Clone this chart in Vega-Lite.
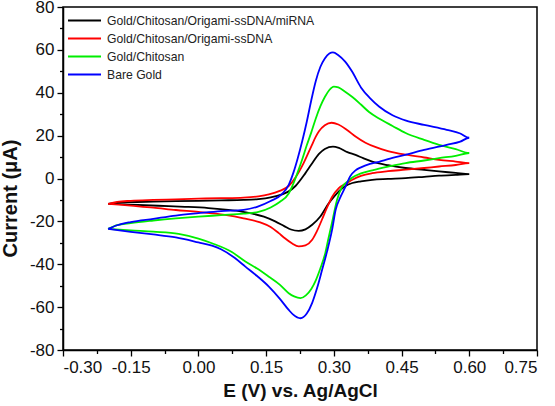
{
  "$schema": "https://vega.github.io/schema/vega-lite/v6.json",
  "width": 474,
  "height": 343,
  "autosize": {"type": "none"},
  "padding": {"left": 63, "top": 7, "right": 18, "bottom": 56},
  "background": "white",
  "config": {
    "view": {"stroke": "black", "strokeWidth": 1.5},
    "font": "Liberation Sans",
    "axis": {
      "grid": false,
      "domainColor": "black",
      "domainWidth": 1.5,
      "tickColor": "black",
      "tickWidth": 1.3,
      "labelColor": "#111",
      "labelFont": "Liberation Sans",
      "labelFontSize": 17,
      "titleFont": "Liberation Sans",
      "titleFontWeight": "bold",
      "titleColor": "#111",
      "titleFontSize": 19
    },
    "legend": {
      "orient": "none",
      "legendX": 15,
      "legendY": 7,
      "labelFont": "Liberation Sans",
      "labelFontSize": 12.2,
      "labelColor": "#222",
      "labelLimit": 0,
      "symbolType": "M-3,0H3",
      "symbolSize": 121,
      "symbolStrokeWidth": 2,
      "symbolFillColor": "transparent",
      "labelOffset": 16,
      "rowPadding": 5
    }
  },
  "data": {"values": [
    {"s":"Gold/Chitosan/Origami-ssDNA/miRNA","e":-0.2,"i":-11.8},{"s":"Gold/Chitosan/Origami-ssDNA/miRNA","e":-0.18,"i":-11.3},{"s":"Gold/Chitosan/Origami-ssDNA/miRNA","e":-0.15,"i":-11.0},{"s":"Gold/Chitosan/Origami-ssDNA/miRNA","e":-0.1,"i":-10.8},{"s":"Gold/Chitosan/Origami-ssDNA/miRNA","e":-0.05,"i":-10.6},{"s":"Gold/Chitosan/Origami-ssDNA/miRNA","e":0.0,"i":-10.4},{"s":"Gold/Chitosan/Origami-ssDNA/miRNA","e":0.05,"i":-10.2},{"s":"Gold/Chitosan/Origami-ssDNA/miRNA","e":0.1,"i":-10.0},{"s":"Gold/Chitosan/Origami-ssDNA/miRNA","e":0.133,"i":-9.6},{"s":"Gold/Chitosan/Origami-ssDNA/miRNA","e":0.16,"i":-8.8},{"s":"Gold/Chitosan/Origami-ssDNA/miRNA","e":0.185,"i":-7.4},{"s":"Gold/Chitosan/Origami-ssDNA/miRNA","e":0.2,"i":-6.0},{"s":"Gold/Chitosan/Origami-ssDNA/miRNA","e":0.215,"i":-3.5},{"s":"Gold/Chitosan/Origami-ssDNA/miRNA","e":0.237,"i":2.5},{"s":"Gold/Chitosan/Origami-ssDNA/miRNA","e":0.25,"i":6.5},{"s":"Gold/Chitosan/Origami-ssDNA/miRNA","e":0.267,"i":11.5},{"s":"Gold/Chitosan/Origami-ssDNA/miRNA","e":0.28,"i":13.8},{"s":"Gold/Chitosan/Origami-ssDNA/miRNA","e":0.298,"i":14.9},{"s":"Gold/Chitosan/Origami-ssDNA/miRNA","e":0.311,"i":14.3},{"s":"Gold/Chitosan/Origami-ssDNA/miRNA","e":0.33,"i":12.3},{"s":"Gold/Chitosan/Origami-ssDNA/miRNA","e":0.348,"i":11.0},{"s":"Gold/Chitosan/Origami-ssDNA/miRNA","e":0.365,"i":9.5},{"s":"Gold/Chitosan/Origami-ssDNA/miRNA","e":0.385,"i":7.9},{"s":"Gold/Chitosan/Origami-ssDNA/miRNA","e":0.42,"i":6.2},{"s":"Gold/Chitosan/Origami-ssDNA/miRNA","e":0.459,"i":4.9},{"s":"Gold/Chitosan/Origami-ssDNA/miRNA","e":0.5,"i":4.0},{"s":"Gold/Chitosan/Origami-ssDNA/miRNA","e":0.533,"i":3.3},{"s":"Gold/Chitosan/Origami-ssDNA/miRNA","e":0.57,"i":2.6},{"s":"Gold/Chitosan/Origami-ssDNA/miRNA","e":0.6,"i":2.0},{"s":"Gold/Chitosan/Origami-ssDNA/miRNA","e":0.57,"i":1.7},{"s":"Gold/Chitosan/Origami-ssDNA/miRNA","e":0.533,"i":1.3},{"s":"Gold/Chitosan/Origami-ssDNA/miRNA","e":0.5,"i":0.8},{"s":"Gold/Chitosan/Origami-ssDNA/miRNA","e":0.459,"i":0.2},{"s":"Gold/Chitosan/Origami-ssDNA/miRNA","e":0.42,"i":-0.2},{"s":"Gold/Chitosan/Origami-ssDNA/miRNA","e":0.385,"i":-0.6},{"s":"Gold/Chitosan/Origami-ssDNA/miRNA","e":0.36,"i":-1.3},{"s":"Gold/Chitosan/Origami-ssDNA/miRNA","e":0.341,"i":-2.1},{"s":"Gold/Chitosan/Origami-ssDNA/miRNA","e":0.325,"i":-3.6},{"s":"Gold/Chitosan/Origami-ssDNA/miRNA","e":0.311,"i":-6.0},{"s":"Gold/Chitosan/Origami-ssDNA/miRNA","e":0.3,"i":-8.6},{"s":"Gold/Chitosan/Origami-ssDNA/miRNA","e":0.289,"i":-11.5},{"s":"Gold/Chitosan/Origami-ssDNA/miRNA","e":0.27,"i":-17.7},{"s":"Gold/Chitosan/Origami-ssDNA/miRNA","e":0.252,"i":-21.6},{"s":"Gold/Chitosan/Origami-ssDNA/miRNA","e":0.237,"i":-23.7},{"s":"Gold/Chitosan/Origami-ssDNA/miRNA","e":0.222,"i":-24.4},{"s":"Gold/Chitosan/Origami-ssDNA/miRNA","e":0.205,"i":-23.8},{"s":"Gold/Chitosan/Origami-ssDNA/miRNA","e":0.19,"i":-22.2},{"s":"Gold/Chitosan/Origami-ssDNA/miRNA","e":0.17,"i":-20.0},{"s":"Gold/Chitosan/Origami-ssDNA/miRNA","e":0.145,"i":-17.8},{"s":"Gold/Chitosan/Origami-ssDNA/miRNA","e":0.12,"i":-16.4},{"s":"Gold/Chitosan/Origami-ssDNA/miRNA","e":0.096,"i":-15.4},{"s":"Gold/Chitosan/Origami-ssDNA/miRNA","e":0.06,"i":-14.5},{"s":"Gold/Chitosan/Origami-ssDNA/miRNA","e":0.022,"i":-13.8},{"s":"Gold/Chitosan/Origami-ssDNA/miRNA","e":-0.03,"i":-13.2},{"s":"Gold/Chitosan/Origami-ssDNA/miRNA","e":-0.089,"i":-12.7},{"s":"Gold/Chitosan/Origami-ssDNA/miRNA","e":-0.15,"i":-12.2},{"s":"Gold/Chitosan/Origami-ssDNA/miRNA","e":-0.2,"i":-11.8},

    {"s":"Gold/Chitosan/Origami-ssDNA","e":-0.2,"i":-11.8},{"s":"Gold/Chitosan/Origami-ssDNA","e":-0.18,"i":-10.9},{"s":"Gold/Chitosan/Origami-ssDNA","e":-0.15,"i":-10.4},{"s":"Gold/Chitosan/Origami-ssDNA","e":-0.1,"i":-10.0},{"s":"Gold/Chitosan/Origami-ssDNA","e":-0.05,"i":-9.7},{"s":"Gold/Chitosan/Origami-ssDNA","e":0.0,"i":-9.4},{"s":"Gold/Chitosan/Origami-ssDNA","e":0.05,"i":-9.2},{"s":"Gold/Chitosan/Origami-ssDNA","e":0.1,"i":-8.9},{"s":"Gold/Chitosan/Origami-ssDNA","e":0.133,"i":-8.3},{"s":"Gold/Chitosan/Origami-ssDNA","e":0.156,"i":-7.4},{"s":"Gold/Chitosan/Origami-ssDNA","e":0.18,"i":-5.8},{"s":"Gold/Chitosan/Origami-ssDNA","e":0.2,"i":-3.5},{"s":"Gold/Chitosan/Origami-ssDNA","e":0.215,"i":0.5},{"s":"Gold/Chitosan/Origami-ssDNA","e":0.233,"i":7.2},{"s":"Gold/Chitosan/Origami-ssDNA","e":0.25,"i":15.0},{"s":"Gold/Chitosan/Origami-ssDNA","e":0.26,"i":19.5},{"s":"Gold/Chitosan/Origami-ssDNA","e":0.267,"i":22.0},{"s":"Gold/Chitosan/Origami-ssDNA","e":0.28,"i":24.8},{"s":"Gold/Chitosan/Origami-ssDNA","e":0.295,"i":26.0},{"s":"Gold/Chitosan/Origami-ssDNA","e":0.31,"i":25.2},{"s":"Gold/Chitosan/Origami-ssDNA","e":0.33,"i":22.5},{"s":"Gold/Chitosan/Origami-ssDNA","e":0.348,"i":19.6},{"s":"Gold/Chitosan/Origami-ssDNA","e":0.37,"i":16.7},{"s":"Gold/Chitosan/Origami-ssDNA","e":0.393,"i":14.6},{"s":"Gold/Chitosan/Origami-ssDNA","e":0.42,"i":12.8},{"s":"Gold/Chitosan/Origami-ssDNA","e":0.459,"i":11.1},{"s":"Gold/Chitosan/Origami-ssDNA","e":0.5,"i":9.8},{"s":"Gold/Chitosan/Origami-ssDNA","e":0.533,"i":8.7},{"s":"Gold/Chitosan/Origami-ssDNA","e":0.57,"i":7.9},{"s":"Gold/Chitosan/Origami-ssDNA","e":0.6,"i":7.2},{"s":"Gold/Chitosan/Origami-ssDNA","e":0.57,"i":6.3},{"s":"Gold/Chitosan/Origami-ssDNA","e":0.533,"i":5.6},{"s":"Gold/Chitosan/Origami-ssDNA","e":0.5,"i":4.9},{"s":"Gold/Chitosan/Origami-ssDNA","e":0.459,"i":4.1},{"s":"Gold/Chitosan/Origami-ssDNA","e":0.42,"i":3.4},{"s":"Gold/Chitosan/Origami-ssDNA","e":0.385,"i":2.5},{"s":"Gold/Chitosan/Origami-ssDNA","e":0.36,"i":1.2},{"s":"Gold/Chitosan/Origami-ssDNA","e":0.341,"i":-0.6},{"s":"Gold/Chitosan/Origami-ssDNA","e":0.33,"i":-2.0},{"s":"Gold/Chitosan/Origami-ssDNA","e":0.311,"i":-4.5},{"s":"Gold/Chitosan/Origami-ssDNA","e":0.296,"i":-8.6},{"s":"Gold/Chitosan/Origami-ssDNA","e":0.285,"i":-13.5},{"s":"Gold/Chitosan/Origami-ssDNA","e":0.274,"i":-19.0},{"s":"Gold/Chitosan/Origami-ssDNA","e":0.262,"i":-24.8},{"s":"Gold/Chitosan/Origami-ssDNA","e":0.252,"i":-28.6},{"s":"Gold/Chitosan/Origami-ssDNA","e":0.237,"i":-31.2},{"s":"Gold/Chitosan/Origami-ssDNA","e":0.222,"i":-31.7},{"s":"Gold/Chitosan/Origami-ssDNA","e":0.207,"i":-30.2},{"s":"Gold/Chitosan/Origami-ssDNA","e":0.19,"i":-27.6},{"s":"Gold/Chitosan/Origami-ssDNA","e":0.178,"i":-25.5},{"s":"Gold/Chitosan/Origami-ssDNA","e":0.16,"i":-22.6},{"s":"Gold/Chitosan/Origami-ssDNA","e":0.137,"i":-20.5},{"s":"Gold/Chitosan/Origami-ssDNA","e":0.1,"i":-18.6},{"s":"Gold/Chitosan/Origami-ssDNA","e":0.059,"i":-17.0},{"s":"Gold/Chitosan/Origami-ssDNA","e":0.0,"i":-15.6},{"s":"Gold/Chitosan/Origami-ssDNA","e":-0.05,"i":-14.7},{"s":"Gold/Chitosan/Origami-ssDNA","e":-0.1,"i":-13.6},{"s":"Gold/Chitosan/Origami-ssDNA","e":-0.15,"i":-12.7},{"s":"Gold/Chitosan/Origami-ssDNA","e":-0.2,"i":-11.8},

    {"s":"Gold/Chitosan","e":-0.2,"i":-23.5},{"s":"Gold/Chitosan","e":-0.18,"i":-21.8},{"s":"Gold/Chitosan","e":-0.15,"i":-20.8},{"s":"Gold/Chitosan","e":-0.1,"i":-19.6},{"s":"Gold/Chitosan","e":-0.05,"i":-18.6},{"s":"Gold/Chitosan","e":0.0,"i":-17.8},{"s":"Gold/Chitosan","e":0.05,"i":-17.1},{"s":"Gold/Chitosan","e":0.1,"i":-16.4},{"s":"Gold/Chitosan","e":0.133,"i":-15.6},{"s":"Gold/Chitosan","e":0.16,"i":-13.5},{"s":"Gold/Chitosan","e":0.18,"i":-11.0},{"s":"Gold/Chitosan","e":0.2,"i":-7.0},{"s":"Gold/Chitosan","e":0.21,"i":-2.5},{"s":"Gold/Chitosan","e":0.22,"i":3.0},{"s":"Gold/Chitosan","e":0.23,"i":9.0},{"s":"Gold/Chitosan","e":0.24,"i":15.5},{"s":"Gold/Chitosan","e":0.25,"i":21.5},{"s":"Gold/Chitosan","e":0.26,"i":28.0},{"s":"Gold/Chitosan","e":0.27,"i":33.6},{"s":"Gold/Chitosan","e":0.28,"i":38.0},{"s":"Gold/Chitosan","e":0.29,"i":41.3},{"s":"Gold/Chitosan","e":0.3,"i":42.9},{"s":"Gold/Chitosan","e":0.31,"i":42.5},{"s":"Gold/Chitosan","e":0.325,"i":40.5},{"s":"Gold/Chitosan","e":0.341,"i":38.0},{"s":"Gold/Chitosan","e":0.36,"i":34.5},{"s":"Gold/Chitosan","e":0.378,"i":31.0},{"s":"Gold/Chitosan","e":0.4,"i":28.0},{"s":"Gold/Chitosan","e":0.43,"i":24.5},{"s":"Gold/Chitosan","e":0.459,"i":21.2},{"s":"Gold/Chitosan","e":0.5,"i":18.0},{"s":"Gold/Chitosan","e":0.533,"i":15.7},{"s":"Gold/Chitosan","e":0.57,"i":13.7},{"s":"Gold/Chitosan","e":0.6,"i":11.9},{"s":"Gold/Chitosan","e":0.57,"i":10.6},{"s":"Gold/Chitosan","e":0.533,"i":9.5},{"s":"Gold/Chitosan","e":0.5,"i":8.4},{"s":"Gold/Chitosan","e":0.459,"i":7.2},{"s":"Gold/Chitosan","e":0.42,"i":5.5},{"s":"Gold/Chitosan","e":0.385,"i":3.8},{"s":"Gold/Chitosan","e":0.36,"i":2.4},{"s":"Gold/Chitosan","e":0.341,"i":0.5},{"s":"Gold/Chitosan","e":0.33,"i":-1.5},{"s":"Gold/Chitosan","e":0.318,"i":-4.0},{"s":"Gold/Chitosan","e":0.307,"i":-10.0},{"s":"Gold/Chitosan","e":0.296,"i":-20.5},{"s":"Gold/Chitosan","e":0.288,"i":-28.0},{"s":"Gold/Chitosan","e":0.281,"i":-34.8},{"s":"Gold/Chitosan","e":0.27,"i":-42.0},{"s":"Gold/Chitosan","e":0.26,"i":-47.5},{"s":"Gold/Chitosan","e":0.25,"i":-51.5},{"s":"Gold/Chitosan","e":0.238,"i":-54.5},{"s":"Gold/Chitosan","e":0.226,"i":-55.8},{"s":"Gold/Chitosan","e":0.212,"i":-55.0},{"s":"Gold/Chitosan","e":0.2,"i":-53.5},{"s":"Gold/Chitosan","e":0.18,"i":-49.5},{"s":"Gold/Chitosan","e":0.156,"i":-45.8},{"s":"Gold/Chitosan","e":0.13,"i":-42.0},{"s":"Gold/Chitosan","e":0.104,"i":-38.7},{"s":"Gold/Chitosan","e":0.074,"i":-34.3},{"s":"Gold/Chitosan","e":0.03,"i":-30.2},{"s":"Gold/Chitosan","e":0.0,"i":-28.0},{"s":"Gold/Chitosan","e":-0.044,"i":-25.8},{"s":"Gold/Chitosan","e":-0.1,"i":-24.8},{"s":"Gold/Chitosan","e":-0.15,"i":-24.2},{"s":"Gold/Chitosan","e":-0.2,"i":-23.5},

    {"s":"Bare Gold","e":-0.2,"i":-23.5},{"s":"Bare Gold","e":-0.18,"i":-21.8},{"s":"Bare Gold","e":-0.15,"i":-20.3},{"s":"Bare Gold","e":-0.1,"i":-18.8},{"s":"Bare Gold","e":-0.05,"i":-17.3},{"s":"Bare Gold","e":0.0,"i":-16.2},{"s":"Bare Gold","e":0.05,"i":-15.2},{"s":"Bare Gold","e":0.1,"i":-14.6},{"s":"Bare Gold","e":0.13,"i":-13.2},{"s":"Bare Gold","e":0.16,"i":-10.5},{"s":"Bare Gold","e":0.185,"i":-7.3},{"s":"Bare Gold","e":0.2,"i":-3.0},{"s":"Bare Gold","e":0.21,"i":2.5},{"s":"Bare Gold","e":0.22,"i":9.5},{"s":"Bare Gold","e":0.23,"i":17.5},{"s":"Bare Gold","e":0.24,"i":26.5},{"s":"Bare Gold","e":0.25,"i":36.5},{"s":"Bare Gold","e":0.26,"i":45.5},{"s":"Bare Gold","e":0.27,"i":52.0},{"s":"Bare Gold","e":0.28,"i":56.0},{"s":"Bare Gold","e":0.29,"i":58.3},{"s":"Bare Gold","e":0.298,"i":58.8},{"s":"Bare Gold","e":0.31,"i":57.5},{"s":"Bare Gold","e":0.325,"i":54.5},{"s":"Bare Gold","e":0.34,"i":50.0},{"s":"Bare Gold","e":0.36,"i":42.5},{"s":"Bare Gold","e":0.38,"i":37.5},{"s":"Bare Gold","e":0.4,"i":33.6},{"s":"Bare Gold","e":0.43,"i":29.5},{"s":"Bare Gold","e":0.46,"i":27.0},{"s":"Bare Gold","e":0.5,"i":25.0},{"s":"Bare Gold","e":0.55,"i":22.7},{"s":"Bare Gold","e":0.58,"i":21.0},{"s":"Bare Gold","e":0.6,"i":19.0},{"s":"Bare Gold","e":0.58,"i":17.2},{"s":"Bare Gold","e":0.55,"i":15.7},{"s":"Bare Gold","e":0.5,"i":13.3},{"s":"Bare Gold","e":0.46,"i":11.1},{"s":"Bare Gold","e":0.42,"i":9.0},{"s":"Bare Gold","e":0.4,"i":7.8},{"s":"Bare Gold","e":0.38,"i":6.8},{"s":"Bare Gold","e":0.36,"i":5.2},{"s":"Bare Gold","e":0.348,"i":3.8},{"s":"Bare Gold","e":0.336,"i":1.0},{"s":"Bare Gold","e":0.326,"i":-3.7},{"s":"Bare Gold","e":0.315,"i":-8.5},{"s":"Bare Gold","e":0.304,"i":-14.6},{"s":"Bare Gold","e":0.296,"i":-24.0},{"s":"Bare Gold","e":0.285,"i":-34.0},{"s":"Bare Gold","e":0.274,"i":-42.6},{"s":"Bare Gold","e":0.263,"i":-51.0},{"s":"Bare Gold","e":0.252,"i":-58.0},{"s":"Bare Gold","e":0.24,"i":-63.0},{"s":"Bare Gold","e":0.226,"i":-65.2},{"s":"Bare Gold","e":0.21,"i":-63.5},{"s":"Bare Gold","e":0.2,"i":-61.3},{"s":"Bare Gold","e":0.18,"i":-56.0},{"s":"Bare Gold","e":0.156,"i":-50.4},{"s":"Bare Gold","e":0.13,"i":-45.5},{"s":"Bare Gold","e":0.104,"i":-41.1},{"s":"Bare Gold","e":0.08,"i":-37.0},{"s":"Bare Gold","e":0.05,"i":-33.0},{"s":"Bare Gold","e":0.03,"i":-31.3},{"s":"Bare Gold","e":0.0,"i":-29.8},{"s":"Bare Gold","e":-0.05,"i":-27.5},{"s":"Bare Gold","e":-0.1,"i":-26.1},{"s":"Bare Gold","e":-0.15,"i":-24.9},{"s":"Bare Gold","e":-0.2,"i":-23.5}
  ]},
  "layer": [
    {
      "mark": {"type": "line", "strokeWidth": 1.8, "interpolate": "monotone"},
      "encoding": {
        "x": {"field": "e", "type": "quantitative",
          "scale": {"domain": [-0.3, 0.75], "nice": false, "zero": false},
          "axis": {"values": [-0.3, -0.15, 0, 0.15, 0.3, 0.45, 0.6, 0.75], "labelExpr": "replace(format(datum.value, '.2f'), '\u2212', '-')", "tickSize": 6, "labelPadding": 3, "titlePadding": 6, "title": "E (V) vs. Ag/AgCl", "orient": "bottom"}},
        "y": {"field": "i", "type": "quantitative",
          "scale": {"domain": [-80, 80], "nice": false, "zero": false},
          "axis": {"values": [-80, -60, -40, -20, 0, 20, 40, 60, 80], "labelExpr": "replace(format(datum.value, 'd'), '\u2212', '-')", "tickSize": 6, "labelPadding": 3, "title": "Current (μA)", "titleFontSize": 20, "titleX": -43, "titleY": 191, "orient": "left"}},
        "color": {"field": "s", "type": "nominal",
          "scale": {"domain": ["Gold/Chitosan/Origami-ssDNA/miRNA", "Gold/Chitosan/Origami-ssDNA", "Gold/Chitosan", "Bare Gold"],
                    "range": ["#000000", "#ff0000", "#00ee00", "#0000ff"]},
          "legend": {"title": null}},
        "order": {"value": null}
      }
    },
    {
      "mark": {"type": "point", "opacity": 0},
      "encoding": {
        "x": {"field": "e", "type": "quantitative",
          "axis": {"values": [-0.225, -0.075, 0.075, 0.225, 0.375, 0.525, 0.675], "labels": false, "tickSize": 3.5, "domain": false, "title": null, "orient": "bottom"}},
        "y": {"field": "i", "type": "quantitative",
          "axis": {"values": [-70, -50, -30, -10, 10, 30, 50, 70], "labels": false, "tickSize": 3.5, "domain": false, "title": null, "orient": "left"}}
      }
    }
  ],
  "resolve": {"axis": {"x": "independent", "y": "independent"}}
}
